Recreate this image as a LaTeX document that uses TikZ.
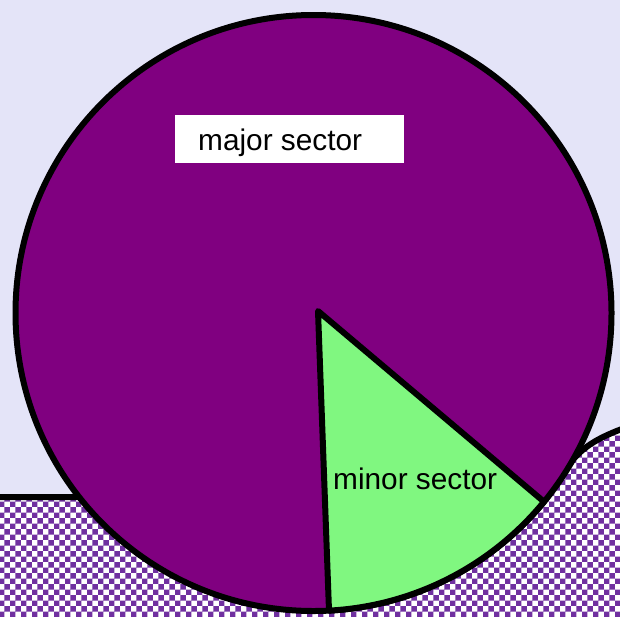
\documentclass[tikz,border=0pt]{standalone}
\usepackage{fontspec}
\setmainfont{Liberation Sans}
\usetikzlibrary{patterns}
\definecolor{lavender}{RGB}{228,228,248}
\definecolor{plum}{RGB}{128,0,128}
\definecolor{mint}{RGB}{128,247,128}
\definecolor{checkpurple}{RGB}{112,48,160}
\tikzset{
  outline/.style={draw=black, line width=6pt, line join=round},
  label/.style={font=\fontsize{29.8}{32}\selectfont, text=black, inner sep=0pt, anchor=base west},
}
\begin{document}
\begin{tikzpicture}[x=1pt, y=-1pt]
  \useasboundingbox (0,0) rectangle (620,616);
  \clip (0,0) rectangle (620,616);
  % background
  \fill[lavender] (0,0) rectangle (620,616);
  % checkered ground behind the disc
  \path[outline, preaction={fill=white}, pattern=checkerboard, pattern color=checkpurple]
    (-10,497) -- (300,497) -- (450,470) -- (565,470)
    .. controls (580,448) and (596,438) .. (630,426)
    -- (630,630) -- (-10,630) -- cycle;
  % disc
  \coordinate (O) at (313.5,313);
  \fill[plum] (O) circle[radius=298];
  \draw[outline] (O) circle[radius=298];
  % minor sector
  \coordinate (V) at (318,311);
  \coordinate (A) at (329,610.6);
  \path[outline, fill=mint] (V) -- (A)
    arc[start angle=87, end angle=39.3, radius=298] -- cycle;
  % labels
  \fill[white] (175,115) rectangle (404,163);
  \node[label] (major) at (198,150) {major sector};
  \node[label] (minor) at (333,489) {minor sector};
\end{tikzpicture}
\end{document}
